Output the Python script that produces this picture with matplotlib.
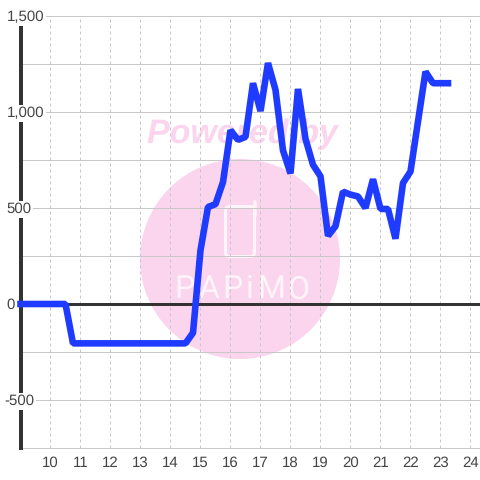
import matplotlib
matplotlib.use("Agg")
import matplotlib.pyplot as plt
from matplotlib.patches import Circle, FancyBboxPatch

hours = [9.0, 9.25, 9.5, 9.75, 10.0, 10.25, 10.5, 10.75, 11.0, 11.25, 11.5, 11.75,
         12.0, 12.25, 12.5, 12.75, 13.0, 13.25, 13.5, 13.75, 14.0, 14.25, 14.5, 14.75,
         15.0, 15.25, 15.5, 15.75, 16.0, 16.25, 16.5, 16.75, 17.0, 17.25, 17.5, 17.75,
         18.0, 18.25, 18.5, 18.75, 19.0, 19.25, 19.5, 19.75, 20.0, 20.25, 20.5, 20.75,
         21.0, 21.25, 21.5, 21.75, 22.0, 22.25, 22.5, 22.75, 23.0, 23.25]
values = [0, 0, 0, 0, 0, 0, 0, -205, -205, -205, -205, -205,
          -205, -205, -205, -205, -205, -205, -205, -205, -205, -205, -205, -150,
          280, 505, 520, 635, 905, 855, 870, 1150, 1005, 1255, 1115, 800,
          680, 1120, 860, 725, 665, 355, 405, 585, 570, 560, 500, 650,
          495, 495, 340, 630, 690, 950, 1210, 1150, 1150, 1150]

x_ticks = list(range(10, 25))
y_grid = [-750, -500, -250, 250, 500, 750, 1000, 1250, 1500]
y_ticks = [1500, 1000, 500, 0, -500]
y_labels = ["1,500", "1,000", "500", "0", "-500"]

logo_letters = ["P", "A", "P", "i", "M", "O"]
logo_centers = [184, 209, 232, 250, 271, 298]

PX = 0.72  # 1 px in points at dpi 100
plt.rcParams["font.family"] = ["Liberation Sans", "DejaVu Sans"]
plt.rcParams["text.hinting"] = "no_hinting"
plt.rcParams["text.hinting_factor"] = 1

fig = plt.figure(figsize=(4.8, 4.8), dpi=100, facecolor="white")

# watermark sits underneath, in pixel coordinates
bg = fig.add_axes([0, 0, 1, 1], zorder=0)
bg.set_xlim(0, 480)
bg.set_ylim(480, 0)
bg.axis("off")
pink = "#fbd5ed"
logo_white = "#fef4fa"
bg.add_patch(Circle((240, 259), 100, color=pink, lw=0))
bg.text(242, 134, "Powered by", color=pink, fontsize=24.3, fontweight="bold",
        fontstyle="italic", ha="center", va="center")
bg.add_patch(FancyBboxPatch((225.5, 206.5), 29, 50, boxstyle="round,pad=0,rounding_size=4",
                            fc="none", ec=logo_white, lw=3 * PX))
bg.plot([254.5, 254.5], [201.5, 215], color=logo_white, lw=3.5 * PX, solid_capstyle="round")
for letter, cx in zip(logo_letters, logo_centers):
    bg.text(cx, 289.5, letter, color=logo_white, fontsize=23, ha="center", va="center",
            family="Roboto")

ax = fig.add_axes([20.5 / 480, 32 / 480, 459.5 / 480, 432 / 480], zorder=1)
ax.patch.set_visible(False)
ax.set_xlim(9, 24.317)
ax.set_ylim(-750, 1500)
for spine in ax.spines.values():
    spine.set_visible(False)

ax.set_xticks(x_ticks)
ax.set_yticks([])
ax.tick_params(axis="x", length=0, pad=6, labelsize=10.6, labelcolor="#444444")

for x in x_ticks:
    ax.axvline(x, color="#c8c8c8", lw=PX, ls=(0, (3, 3)), zorder=1)
for y in y_grid:
    ax.axhline(y, color="#c8c8c8", lw=PX, zorder=1, clip_on=False)

ax.axvline(9, ymax=(1458 + 750) / 2250, color="#333333", lw=4 * PX, zorder=2, clip_on=False)
ax.axhline(0, color="#333333", lw=3 * PX, zorder=2)

for y, label in zip(y_ticks, y_labels):
    xpos = -0.005 if label == "-500" else 0
    ax.text(-0.03 + xpos, y - 6, label, transform=ax.get_yaxis_transform(), color="#444444",
            fontsize=10.6, ha="left", va="center", zorder=3,
            bbox=dict(fc="white", ec="none", pad=1.2))

ax.plot(hours, values, color="#1f3bff", lw=6.6 * PX, solid_joinstyle="bevel",
        solid_capstyle="projecting", zorder=4, clip_on=False)

fig.savefig("out.png", dpi=100)
